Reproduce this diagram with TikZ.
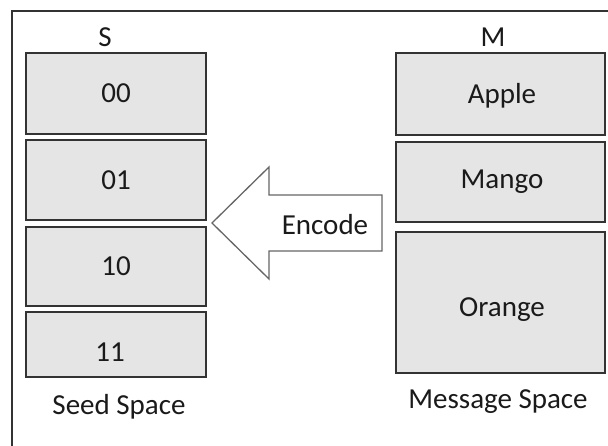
\documentclass[tikz,border=0pt]{standalone}
\usepackage{fontspec}
\setmainfont{Carlito}
\definecolor{boxfill}{HTML}{E5E5E5}
\definecolor{boxline}{HTML}{333333}
\definecolor{txt}{HTML}{1A1A1A}
\begin{document}
\begin{tikzpicture}[x=1pt,y=-1pt,
  cell/.style={draw=boxline,line width=1.5pt,fill=boxfill,inner sep=0pt},
  lbl/.style={font=\fontsize{29}{34}\selectfont,text=txt,inner sep=0pt},
  frameline/.style={draw=boxline,line width=1.5pt},
  bigarrow/.style={draw=gray!80!black,line width=1.3pt,fill=white,line join=miter}]
\useasboundingbox (0,0) rectangle (608,446);
\draw[frameline] (12,446) coordinate (fbl) -- (12,11) coordinate (ftl) -- (612,11) coordinate (ftr);
% seed boxes
\node[cell,minimum width=180pt,minimum height=81pt] (s00) at (116,93.5) {};
\node[cell,minimum width=180pt,minimum height=80pt] (s01) at (116,180) {};
\node[cell,minimum width=180pt,minimum height=79pt] (s10) at (116,266.5) {};
\node[cell,minimum width=180pt,minimum height=65pt] (s11) at (116,344.5) {};
\node[lbl] at (s00.center) {00};
\node[lbl] at (s01.center) {01};
\node[lbl] at (s10.center) {10};
\node[lbl] at (110,352) {11};
\node[lbl] (S) at (105,37) {S};
\node[lbl] (seed) at (119,407) {Seed Space};
% message boxes
\node[cell,minimum width=209pt,minimum height=82pt] (apple) at (500.5,94) {};
\node[cell,minimum width=209pt,minimum height=80pt] (mango) at (500.5,182) {};
\node[cell,minimum width=209pt,minimum height=141pt] (orange) at (500.5,302.5) {};
\node[lbl] at (502,96) {Apple};
\node[lbl] at (502,182) {Mango};
\node[lbl] at (502,310) {Orange};
\node[lbl] (M) at (493,37) {M};
\node[lbl] (msg) at (498,402) {Message Space};
% encode arrow
\draw[bigarrow] (212,223) coordinate (tip) -- (269,167) -- (269,195) -- (382,195) -- (382,251) -- (269,251) -- (269,279) -- cycle;
\node[lbl] (enc) at (325,225) {Encode};
\end{tikzpicture}
\end{document}
